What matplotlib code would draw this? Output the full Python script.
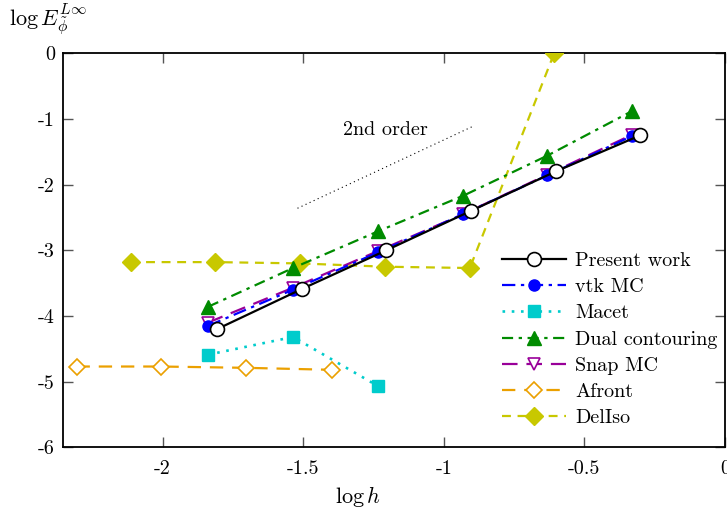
import matplotlib
matplotlib.use("Agg")
import matplotlib.pyplot as plt
import numpy as np

plt.rcParams['font.family'] = 'serif'
plt.rcParams['font.serif'] = ['cmr10', 'DejaVu Serif']
plt.rcParams['mathtext.fontset'] = 'cm'
plt.rcParams['axes.unicode_minus'] = False

# log h and log error for each method
present_x = [-1.806, -1.505, -1.204, -0.903, -0.602, -0.301]
present_y = [-4.20, -3.59, -3.00, -2.40, -1.80, -1.25]

vtk_x = [-1.838, -1.536, -1.233, -0.931, -0.632, -0.330]
vtk_y = [-4.15, -3.60, -3.03, -2.45, -1.86, -1.26]

macet_x = [-1.838, -1.536, -1.233]
macet_y = [-4.59, -4.32, -5.07]

dual_x = [-1.838, -1.536, -1.233, -0.931, -0.632, -0.330]
dual_y = [-3.86, -3.27, -2.71, -2.17, -1.56, -0.88]

snap_x = [-1.838, -1.536, -1.233, -0.931, -0.632, -0.330]
snap_y = [-4.10, -3.57, -3.01, -2.45, -1.85, -1.24]

afront_x = [-2.306, -2.006, -1.703, -1.399]
afront_y = [-4.77, -4.77, -4.79, -4.82]

deliso_x = [-2.114, -1.812, -1.510, -1.209, -0.907, -0.607]
deliso_y = [-3.18, -3.18, -3.20, -3.25, -3.27, 0.0]

order2_x = [-1.52, -0.90]
order2_y = [-2.36, -1.12]

xticks = [-2, -1.5, -1, -0.5, 0]
xticklabels = ['-2', '-1.5', '-1', '-0.5', '0']
yticks = [0, -1, -2, -3, -4, -5, -6]
yticklabels = ['0', '-1', '-2', '-3', '-4', '-5', '-6']

fs = 14.5

fig = plt.figure(figsize=(7.27, 5.12), dpi=100)
ax = fig.add_axes([0.0871, 0.1264, 0.9099, 0.7695])

ax.plot(order2_x, order2_y, color='black', ls=(0, (1, 3)), lw=0.8)
ax.text(-1.209, -1.17, '2nd order', ha='center', va='center', fontsize=fs)

ax.plot(deliso_x, deliso_y, color='#c8c800', ls=(0, (4, 3)), lw=1.6,
        marker='D', ms=9, mfc='#c8c800', mec='#c8c800', label='DelIso', zorder=3)
ax.plot(afront_x, afront_y, color='#eba000', ls=(0, (6, 4)), lw=1.6,
        marker='D', ms=8.5, mfc='white', mec='#eba000', mew=1.2, label='Afront', zorder=3)
ax.plot(macet_x, macet_y, color='#00cccc', ls=(0, (1, 2.5)), lw=1.9,
        marker='s', ms=8, mfc='#00cccc', mec='#00cccc', label='Macet', zorder=3)
ax.plot(dual_x, dual_y, color='#008b00', ls=(0, (5, 2.5, 1.5, 2.5)), lw=1.6,
        marker='^', ms=10, mfc='#008b00', mec='#008b00', label='Dual contouring', zorder=4)
ax.plot(snap_x, snap_y, color='#990099', ls=(0, (7, 4)), lw=1.6,
        marker='v', ms=9, mfc='white', mec='#990099', mew=1.2, label='Snap MC', zorder=4)
ax.plot(vtk_x, vtk_y, color='#0000ff', ls=(0, (6, 2.5, 1.5, 2.5)), lw=1.6,
        marker='o', ms=8, mfc='#0000ff', mec='#0000ff', label='vtk MC', zorder=5)
ax.plot(present_x, present_y, color='black', ls='-', lw=1.6,
        marker='o', ms=10, mfc='white', mec='black', mew=1.2, label='Present work', zorder=6)

ax.set_xlim(-2.353, 0)
ax.set_ylim(-6, 0)
ax.set_xticks(xticks)
ax.set_xticklabels(xticklabels)
ax.set_yticks(yticks)
ax.set_yticklabels(yticklabels)
ax.tick_params(direction='in', length=7, width=1.0, color='#555555',
               top=True, right=True, labelsize=fs, pad=9)
ax.tick_params(axis='y', pad=6)
for sp in ax.spines.values():
    sp.set_linewidth(1.3)

fig.text(0.012, 0.962, r'$\log E_{\tilde{\phi}}^{L\infty}$', fontsize=16, ha='left', va='center')
fig.text(0.492, 0.03, r'$\log h$', fontsize=16, ha='center', va='center')

handles, labels = ax.get_legend_handles_labels()
order = ['Present work', 'vtk MC', 'Macet', 'Dual contouring', 'Snap MC', 'Afront', 'DelIso']
hl = dict(zip(labels, handles))
ax.legend([hl[k] for k in order], order, loc='upper left', frameon=False,
          fontsize=fs, numpoints=1, handlelength=3.2, handletextpad=0.45,
          labelspacing=0.405, bbox_to_anchor=(0.663, 0.496), borderaxespad=0,
          borderpad=0)

fig.savefig('out.png', dpi=100)
